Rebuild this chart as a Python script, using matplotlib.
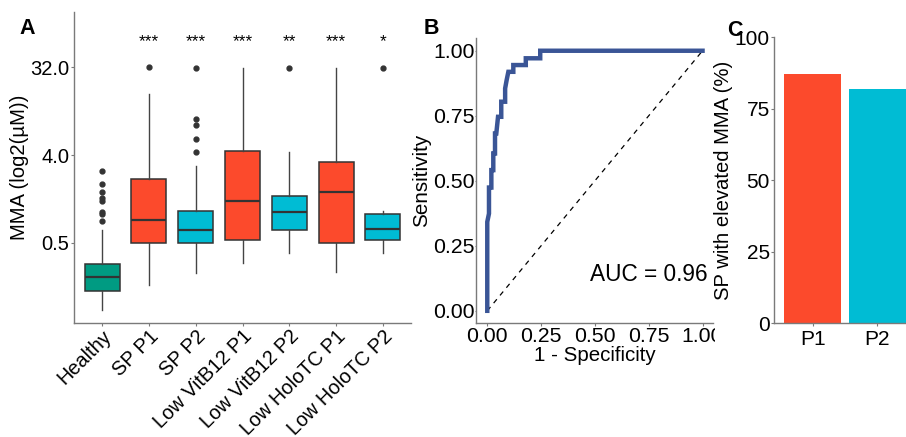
import numpy as np
import matplotlib
matplotlib.use("Agg")
import matplotlib.pyplot as plt
from matplotlib.patches import Rectangle

plt.rcParams['font.family'] = ['Liberation Sans', 'DejaVu Sans']

# ---- panel A data (MMA, uM) ----
groups = ['Healthy', 'SP P1', 'SP P2', 'Low VitB12 P1', 'Low VitB12 P2',
          'Low HoloTC P1', 'Low HoloTC P2']
whis_lo = [0.102, 0.186, 0.245, 0.31, 0.392, 0.253, 0.392]
q1 = [0.161, 0.5, 0.5, 0.536, 0.683, 0.5, 0.54]
med = [0.225, 0.853, 0.678, 1.34, 1.04, 1.66, 0.70]
q3 = [0.306, 2.27, 1.07, 4.38, 1.51, 3.39, 0.986]
whis_hi = [0.678, 17.1, 3.12, 31.6, 4.29, 31.6, 1.06]
outliers = [[0.847, 0.986, 1.05, 1.36, 1.46, 1.68, 2.01, 2.75],
            [32.0],
            [4.29, 5.86, 8.17, 9.38, 31.0],
            [],
            [31.0],
            [],
            [31.0]]
signif = ['', '***', '***', '***', '**', '***', '*']
box_colors = ['#009B82', '#FC4A2C', '#00BCD4', '#FC4A2C', '#00BCD4', '#FC4A2C', '#00BCD4']

# ---- panel B data (ROC curve vertices) ----
roc_fpr = [0, 0, 0.008, 0.008, 0.019, 0.019, 0.028, 0.028, 0.036, 0.036, 0.042,
           0.05, 0.05, 0.065, 0.065, 0.083, 0.083, 0.09, 0.098, 0.098, 0.121,
           0.121, 0.179, 0.179, 0.246, 0.246, 1.0]
roc_tpr = [0, 0.342, 0.374, 0.474, 0.474, 0.541, 0.541, 0.605, 0.605, 0.682, 0.682,
           0.746, 0.746, 0.746, 0.804, 0.804, 0.855, 0.887, 0.919, 0.919, 0.919,
           0.945, 0.945, 0.971, 0.971, 1.0, 1.0]
auc = 0.96

# ---- panel C data ----
bar_names = ['P1', 'P2']
bar_pct = [87.1, 81.9]
bar_colors = ['#FC4A2C', '#00BCD4']

W, H = 906, 437
fig = plt.figure(figsize=(W / 100, H / 100), dpi=100)

def px(l, r, t, b):
    return [l / W, (H - b) / H, (r - l) / W, (b - t) / H]

axis_grey = '#7a7a7a'

def style(ax):
    for s in ['top', 'right']:
        ax.spines[s].set_visible(False)
    for s in ['left', 'bottom']:
        ax.spines[s].set_color(axis_grey)
        ax.spines[s].set_linewidth(1.0)
    ax.tick_params(color=axis_grey, length=2, width=0.8, pad=1.5, labelcolor='black')

# ===== A =====
axA = fig.add_axes(px(74, 411, 12, 323))
stats = []
for i, g in enumerate(groups):
    stats.append(dict(label=g, whislo=whis_lo[i], q1=q1[i], med=med[i],
                      q3=q3[i], whishi=whis_hi[i], fliers=outliers[i]))
pos = np.arange(1, len(groups) + 1)
bp = axA.bxp(stats, positions=pos, widths=0.75, patch_artist=True,
             showcaps=False,
             boxprops=dict(edgecolor='#333333', linewidth=1.1),
             medianprops=dict(color='#333333', linewidth=1.6),
             whiskerprops=dict(color='#444444', linewidth=1.0),
             flierprops=dict(marker='o', markerfacecolor='#333333',
                             markeredgecolor='#333333', markersize=3.5))
for patch, c in zip(bp['boxes'], box_colors):
    patch.set_facecolor(c)
axA.set_yscale('log', base=2)
axA.set_ylim(2 ** -3.73, 2 ** 6.88)
axA.set_xlim(0.4, 7.6)
axA.set_yticks([0.5, 4, 32])
axA.set_yticklabels(['0.5', '4.0', '32.0'])
axA.yaxis.set_minor_locator(matplotlib.ticker.NullLocator())
axA.set_xticks(pos)
axA.set_xticklabels(groups, rotation=45, ha='right', va='top',
                    rotation_mode='anchor')
style(axA)
axA.tick_params(axis='y', labelsize=14.5)
axA.tick_params(axis='x', labelsize=14.3, pad=0.5)
axA.set_ylabel('MMA (log2(µM))', fontsize=14.6, labelpad=1)
for p, s in zip(pos, signif):
    if s:
        axA.text(p, 2 ** 5.71, s, ha='center', va='baseline', fontsize=12.4)

# ===== B =====
axB = fig.add_axes(px(476.5, 713.3, 38, 323.3))
axB.plot([0, 1], [0, 1], ls=(0, (4, 4)), color='black', lw=0.9)
axB.plot(roc_fpr, roc_tpr, color='#3A5596', lw=3.2, solid_joinstyle='miter')
axB.set_xlim(-0.05, 1.05)
axB.set_ylim(-0.048, 1.049)
ticks = [0, 0.25, 0.5, 0.75, 1.0]
axB.set_xticks(ticks)
axB.set_yticks(ticks)
axB.set_xticklabels(['%.2f' % t for t in ticks])
axB.set_yticklabels(['%.2f' % t for t in ticks])
style(axB)
axB.tick_params(labelsize=15.3, pad=1)
axB.tick_params(axis='y', length=1, pad=0.5)
axB.set_xlabel('1 - Specificity', fontsize=14.8, labelpad=0)
axB.set_ylabel('Sensitivity', fontsize=14.9, labelpad=1)
axB.text(1.025, 0.14, 'AUC = %.2f' % auc, ha='right', va='center', fontsize=16.3)

# white mask that crops the right end of panel B (as in the source figure)
fig.add_artist(Rectangle((715 / W, 0), 1, 1, transform=fig.transFigure,
                         facecolor='white', edgecolor='none', zorder=0.5))

# ===== C =====
axC = fig.add_axes(px(774, 916, 37.3, 323.3))
axC.set_zorder(1)
axC.patch.set_alpha(0)
xc = np.arange(1, len(bar_names) + 1)
axC.bar(xc, bar_pct, width=0.89, color=bar_colors)
axC.set_xlim(0.4, 2.6)
axC.set_ylim(0, 100)
axC.set_yticks([0, 25, 50, 75, 100])
axC.set_xticks(xc)
axC.set_xticklabels(bar_names)
style(axC)
axC.tick_params(labelsize=15, pad=1)
axC.tick_params(axis='x', pad=3)
axC.set_ylabel('SP with elevated MMA (%)', fontsize=14.6, labelpad=1)

# panel letters
fig.text(27 / W, 1 - 29 / H, 'A', fontsize=15.5, fontweight='bold', ha='center', va='center', zorder=3)
fig.text(431 / W, 1 - 28 / H, 'B', fontsize=15.5, fontweight='bold', ha='center', va='center', zorder=3)
fig.text(735 / W, 1 - 30 / H, 'C', fontsize=15.5, fontweight='bold', ha='center', va='center', zorder=3)

fig.savefig('out.png', dpi=100)
